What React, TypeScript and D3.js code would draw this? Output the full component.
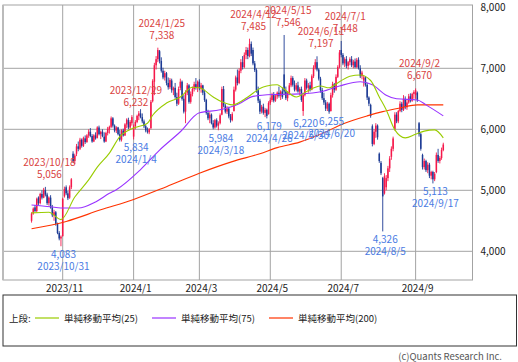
import React from "react";
import * as d3 from "d3";

const START = "2023-10-05";
const END = "2024-09-26";
const HOLIDAYS = [
  "2023-10-09", "2023-11-03", "2023-11-23", "2024-01-01", "2024-01-02", "2024-01-03",
  "2024-01-08", "2024-02-12", "2024-02-23", "2024-03-20", "2024-04-29", "2024-05-03",
  "2024-05-06", "2024-07-15", "2024-08-12", "2024-09-16", "2024-09-23",
];

// [open, high, low, close] per trading day
const candles: [number, number, number, number][] = [
  [4500,4640,4470,4620],[4620,4720,4600,4700],[4720,4760,4640,4660],[4660,4880,4640,4860],[4880,4900,4760,4790],
  [4790,4960,4770,4940],[4940,5000,4850,4880],[4880,5040,4870,5010],[5000,5056,4900,4930],[4930,4960,4760,4790],
  [4790,4900,4750,4880],[4880,4920,4700,4720],[4720,4760,4560,4590],[4590,4680,4500,4640],[4640,4660,4420,4450],
  [4450,4470,4280,4300],[4300,4330,4180,4210],[4210,4260,4083,4240],[4250,4880,4240,4860],[4900,5060,4880,5020],
  [5050,5080,4920,4950],[4950,4990,4840,4870],[4880,5080,4860,5050],[5050,5200,5020,5180],[5600,5640,5450,5480],
  [5480,5600,5430,5570],[5600,5760,5560,5720],[5720,5800,5640,5680],[5680,5860,5660,5830],[5830,5850,5700,5730],
  [5730,5880,5710,5860],[5850,5900,5760,5790],[5790,5920,5780,5900],[5900,6000,5860,5960],[5960,6020,5870,5890],
  [5890,5920,5780,5800],[5800,5920,5790,5900],[5900,5950,5830,5850],[5860,6050,5850,6030],[6030,6060,5900,5920],
  [5920,5980,5840,5960],[5960,6000,5870,5890],[5880,5950,5780,5800],[5800,5960,5790,5940],[5940,6040,5900,6010],
  [6000,6060,5930,6040],[6040,6210,6020,6180],[6180,6200,6030,6060],[6060,6080,5950,5980],[5980,6050,5940,6030],
  [6030,6040,5900,5920],[5920,5990,5800,5830],[5830,6000,5800,5980],[5980,6010,5880,5900],[5900,6100,5890,6080],
  [6080,6180,6020,6160],[6150,6190,6000,6030],[6030,6150,5990,6120],[6100,6232,6060,6200],[5880,6080,5834,6050],
  [6050,6150,6000,6120],[6120,6240,6100,6220],[6220,6300,6150,6260],[6260,6330,6180,6200],[6200,6260,6100,6130],
  [6130,6160,6020,6050],[6050,6080,5950,5980],[5980,6030,5930,5960],[5950,6020,5920,6000],[6020,6480,6000,6450],
  [6460,6820,6440,6790],[6780,7090,6560,7050],[7050,7200,6980,7150],[7150,7338,7100,7300],[7280,7300,7080,7120],
  [7120,7180,6930,6960],[6960,7010,6820,6850],[6850,6960,6800,6920],[6920,6940,6720,6760],[6760,6850,6650,6690],
  [6690,6840,6660,6810],[6800,6830,6600,6640],[6640,6700,6560,6680],[6680,6760,6500,6530],[6530,6600,6380,6420],
  [6420,6700,6400,6660],[6680,6830,6640,6780],[6780,6800,6470,6500],[6500,6560,6260,6290],[6290,6640,6100,6600],
  [6600,6760,6560,6720],[6720,6740,6420,6450],[6450,6620,6420,6580],[6580,6700,6540,6660],[6660,6780,6620,6740],
  [6740,6840,6650,6690],[6690,6800,6610,6780],[6780,6820,6640,6670],[6670,6760,6600,6720],[6720,6730,6560,6600],
  [6600,6650,6450,6480],[6480,6500,6240,6270],[6270,6320,6150,6180],[6180,6280,6100,6240],[6240,6260,6080,6100],
  [6100,6150,6000,6030],[6030,6170,6010,6150],[6150,6180,6030,6060],[6060,6130,5984,6100],[6100,6260,6080,6230],
  [6240,6700,6230,6660],[6660,6710,6360,6390],[6390,6420,6260,6290],[6290,6380,6250,6340],[6340,6370,6180,6210],
  [6210,6250,6110,6150],[6150,6280,6130,6250],[6300,6700,6290,6650],[6650,6880,6620,6850],[6850,6980,6720,6760],
  [6760,7000,6740,6960],[6960,7150,6920,7100],[7100,7200,6980,7020],[7020,7260,7000,7220],[7220,7350,7150,7300],
  [7300,7340,7150,7200],[7200,7485,7180,7400],[7400,7440,7200,7240],[7300,7340,7050,7080],[7080,7120,6940,6970],
  [6970,7000,6600,6640],[6640,6700,6430,6470],[6470,6500,6250,6290],[6290,6400,6260,6370],[6370,6420,6240,6270],
  [6270,6350,6200,6320],[6320,6340,6179,6220],[6250,6460,6240,6430],[6430,6520,6400,6480],[6480,6600,6450,6560],
  [6560,6610,6440,6470],[6470,6580,6450,6540],[6540,6620,6500,6600],[6600,6700,6520,6550],[6550,6640,6480,6620],
  [6620,6680,6500,6530],[6900,7546,6560,6620],[6620,6700,6480,6510],[6510,6620,6460,6600],[6600,6760,6560,6720],
  [6720,6880,6690,6840],[6840,6870,6700,6730],[6730,6800,6620,6650],[6650,6760,6620,6720],[6720,6780,6600,6620],
  [6620,6690,6560,6660],[6660,6700,6450,6480],[6300,6600,6220,6560],[6560,6840,6540,6800],[6800,6830,6650,6680],
  [6680,6760,6600,6720],[6720,6780,6620,6650],[6650,6900,6640,6870],[6870,7050,6840,7010],[7010,7150,6980,7100],
  [7100,7197,6950,6980],[6980,7000,6800,6830],[6830,6860,6600,6640],[6640,6680,6480,6510],[6510,6600,6400,6440],
  [6440,6480,6300,6340],[6340,6450,6300,6420],[6420,6440,6255,6290],[6300,6600,6290,6560],[6560,6780,6520,6740],
  [6740,6760,6600,6650],[6650,6900,6630,6860],[6860,7050,6840,7020],[7020,7300,7000,7260],[7300,7448,7180,7220],
  [7220,7250,7050,7080],[7080,7180,7020,7150],[7150,7200,7000,7040],[7040,7120,6980,7100],[7100,7180,7050,7150],
  [7150,7200,7020,7050],[7050,7140,7000,7110],[7110,7160,7000,7020],[7020,7170,7000,7140],[7140,7180,6980,7000],
  [7000,7050,6840,6870],[6870,6960,6820,6930],[6800,6880,6700,6850],[6850,6870,6700,6730],[6730,6760,6480,6520],
  [6520,6540,6380,6420],[6400,6420,6190,6220],[6050,6080,5720,5760],[5760,6000,5740,5960],[5960,6100,5860,6060],
  [6060,6080,5830,5870],[5600,5620,5450,5480],[5450,5480,5250,5280],[5200,5220,4326,4900],[4950,5280,4930,5230],
  [5050,5250,5000,5200],[5200,5400,5150,5360],[5360,5560,5300,5520],[5550,5720,5500,5680],[5680,5880,5640,5850],
  [6000,6280,5980,6240],[6240,6280,6100,6130],[6130,6320,6100,6300],[6300,6460,6280,6420],[6420,6450,6280,6320],
  [6320,6560,6300,6500],[6500,6540,6330,6360],[6360,6480,6320,6440],[6440,6580,6420,6540],[6540,6590,6440,6470],
  [6470,6600,6450,6580],[6580,6640,6500,6610],[6560,6670,6500,6640],[6600,6620,6450,6480],[6100,6120,5880,5920],
  [5920,5940,5650,5680],[5580,5600,5340,5380],[5380,5520,5340,5480],[5480,5500,5300,5330],[5330,5460,5280,5420],
  [5420,5450,5200,5240],[5240,5320,5180,5300],[5300,5320,5113,5180],[5180,5300,5150,5270],[5300,5620,5280,5580],
  [5580,5680,5450,5480],[5480,5560,5440,5530],[5530,5700,5500,5660],[5660,5780,5640,5750],
];

// moving averages: [trading-day index, value]
const ma25: [number, number][] = [
  [0,4630],[10,4640],[17,4520],[25,4890],[33,5170],[38,5380],[45,5610],[51,5880],[59,6020],[67,6100],
  [70,6230],[78,6430],[86,6530],[93,6690],[97,6680],[105,6530],[110,6450],[116,6400],[125,6530],[132,6670],
  [136,6710],[142,6730],[145,6680],[153,6530],[159,6620],[167,6710],[172,6680],[178,6780],[184,6870],[190,6890],
  [196,6800],[201,6530],[205,6320],[210,5990],[216,5860],[222,5920],[227,5970],[233,5990],[238,5860],
];
const ma75: [number, number][] = [
  [0,4760],[11,4730],[17,4710],[27,4710],[37,4810],[45,4950],[49,5010],[63,5340],[74,5660],[86,5960],
  [97,6270],[109,6320],[120,6420],[128,6540],[140,6570],[155,6580],[168,6620],[178,6710],[190,6780],[197,6730],
  [205,6560],[211,6500],[223,6480],[228,6400],[238,6220],
];
const ma200: [number, number][] = [
  [0,4370],[20,4490],[40,4680],[59,4850],[78,5060],[97,5280],[116,5470],[132,5600],[142,5700],[155,5790],
  [167,5920],[181,6100],[194,6220],[203,6290],[213,6350],[223,6400],[238,6400],
];

const highs: [string, number][] = [
  ["2023-10-18",5056],["2023-12-29",6232],["2024-01-25",7338],["2024-04-12",7485],
  ["2024-05-15",7546],["2024-06-11",7197],["2024-07-01",7448],["2024-09-02",6670],
];
const lows: [string, number][] = [
  ["2023-10-31",4083],["2024-01-04",5834],["2024-03-18",5984],["2024-04-26",6179],
  ["2024-05-30",6220],["2024-06-20",6255],["2024-08-05",4326],["2024-09-17",5113],
];

const yTicks = [4000, 5000, 6000, 7000, 8000];
const monthTicks = ["2023-11", "2024-01", "2024-03", "2024-05", "2024-07", "2024-09"];
const monthLabels = ["2023/11", "2024/1", "2024/3", "2024/5", "2024/7", "2024/9"];

const legendItems = [
  { label: "単純移動平均(25)", color: "#99cc00" },
  { label: "単純移動平均(75)", color: "#9933ff" },
  { label: "単純移動平均(200)", color: "#ff3300" },
];

function tradingDays(): string[] {
  const out: string[] = [];
  const d = new Date(START + "T00:00:00Z");
  const end = new Date(END + "T00:00:00Z");
  while (d <= end) {
    const s = d.toISOString().slice(0, 10);
    const wd = d.getUTCDay();
    if (wd !== 0 && wd !== 6 && !HOLIDAYS.includes(s)) out.push(s);
    d.setUTCDate(d.getUTCDate() + 1);
  }
  return out;
}

const FONT = "'Noto Sans CJK JP', 'Noto Sans', 'DejaVu Sans', sans-serif";
const fmtDate = (s: string) => {
  const [y, m, d] = s.split("-");
  return `${y}/${+m}/${+d}`;
};
const fmtNum = d3.format(",");

export default function App() {
  const dates = tradingDays();
  const n = candles.length;
  const left = 3, right = 472.5, top = 5, bottom = 280;
  const step = 1.73;
  const x0 = 31.55;
  const x = d3.scaleLinear().domain([0, n - 1]).range([x0, x0 + (n - 1) * step]);
  const y = d3.scaleLinear().domain([4000, 8000]).range([251.3, 7.3]);
  const idxOf = (s: string) => dates.indexOf(s);

  const line = d3
    .line<[number, number]>()
    .x((d) => x(d[0]))
    .y((d) => y(d[1]))
    .curve(d3.curveMonotoneX);

  const up = "#f5174a";
  const down = "#1c3a94";
  const grid = "#a3a3a3";
  const bw = 1.5;

  return (
    <svg
      width={518}
      height={362}
      style={{ position: "absolute", left: 0, top: 0, background: "#fff" }}
      fontFamily={FONT}
    >
      <rect x={0} y={0} width={518} height={362} fill="#fff" />
      {/* horizontal gridlines */}
      {yTicks.filter((t) => t < 8000).map((t) => (
        <line key={t} x1={left} x2={right} y1={y(t)} y2={y(t)} stroke={grid} strokeWidth={1} />
      ))}
      {/* vertical gridlines */}
      {monthTicks.map((m) => {
        const i = dates.findIndex((d) => d.startsWith(m));
        return <line key={m} x1={x(i)} x2={x(i)} y1={top} y2={bottom} stroke={grid} strokeWidth={1} />;
      })}
      {/* frame */}
      <rect x={left} y={top} width={right - left} height={bottom - top} fill="none" stroke={grid} strokeWidth={1} />
      <line x1={left} x2={left} y1={top} y2={bottom} stroke="#bbb" strokeWidth={2} />

      {/* candles */}
      {candles.map((c, i) => {
        const [o, h, l, cl] = c;
        const col = cl >= o ? up : down;
        const cx = x(i);
        const yt = y(Math.max(o, cl));
        const yb = y(Math.min(o, cl));
        return (
          <g key={i}>
            <line x1={cx} x2={cx} y1={y(h)} y2={y(l)} stroke={col} strokeWidth={0.9} />
            <rect x={cx - bw / 2} y={yt} width={bw} height={Math.max(0.8, yb - yt)} fill={col} />
          </g>
        );
      })}

      {/* moving averages */}
      <path d={line(ma200) || ""} fill="none" stroke="#ff3300" strokeWidth={1.1} />
      <path d={line(ma75) || ""} fill="none" stroke="#9933ff" strokeWidth={1.1} />
      <path d={line(ma25) || ""} fill="none" stroke="#99cc00" strokeWidth={1.1} />

      {/* annotations */}
      {highs.map(([d, v]) => {
        const cx = x(idxOf(d)) + 4;
        return (
          <g key={d} fill="#d9433f" fontSize={10} textAnchor="middle">
            <text x={cx} y={y(v) - 21}>{fmtDate(d)}</text>
            <text x={cx} y={y(v) - 9}>{fmtNum(v)}</text>
          </g>
        );
      })}
      {lows.map(([d, v]) => {
        const cx = x(idxOf(d)) + 2.5;
        return (
          <g key={d} fill="#4a7be3" fontSize={10} textAnchor="middle">
            <text x={cx} y={y(v) + 11.5}>{fmtNum(v)}</text>
            <text x={cx} y={y(v) + 23.5}>{fmtDate(d)}</text>
          </g>
        );
      })}

      {/* y axis labels */}
      {yTicks.map((t) => (
        <text key={t} x={480.5} y={y(t) + 3.5} fontSize={10} fill="#222">
          {fmtNum(t)}
        </text>
      ))}
      {/* x axis labels */}
      {monthTicks.map((m, k) => {
        const i = dates.findIndex((d) => d.startsWith(m));
        return (
          <text key={m} x={x(i) + 2} y={291.5} fontSize={10} fill="#222" textAnchor="middle">
            {monthLabels[k]}
          </text>
        );
      })}

      {/* legend */}
      <rect x={3} y={295} width={513.5} height={51} fill="none" stroke="#333" strokeWidth={1} />
      <text x={9} y={321.5} fontSize={9.5} fill="#222">上段:</text>
      {legendItems.map((it, k) => {
        const lx = [35, 152, 269][k];
        return (
          <g key={it.label}>
            <line x1={lx} x2={lx + 24} y1={318} y2={318} stroke={it.color} strokeWidth={1.2} />
            <text x={lx + 29} y={321.5} fontSize={9.5} fill="#222">{it.label}</text>
          </g>
        );
      })}
      <text x={502} y={359.5} fontSize={9.5} fill="#555" textAnchor="end">(c)Quants Research Inc.</text>
    </svg>
  );
}
